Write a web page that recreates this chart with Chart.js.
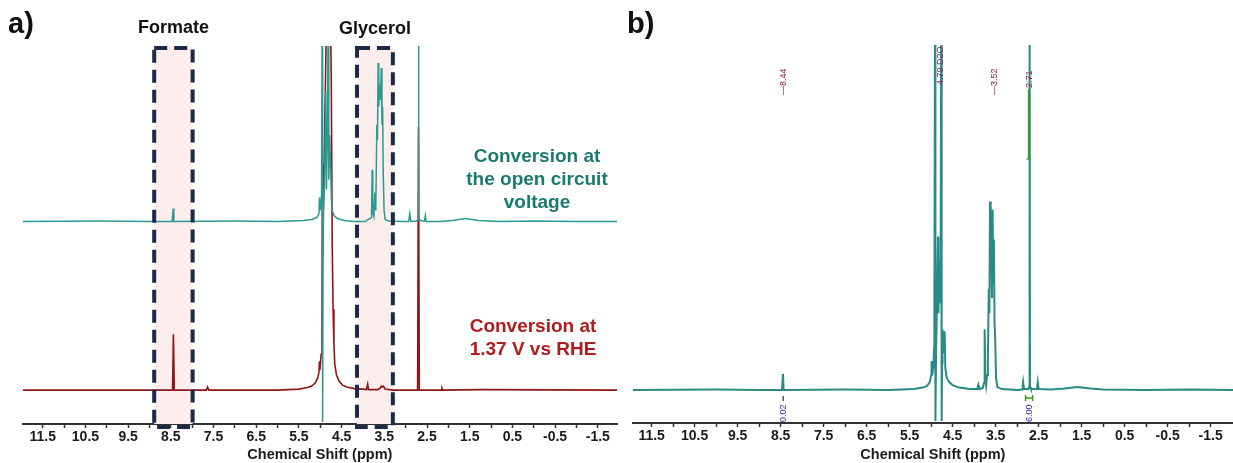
<!DOCTYPE html>
<html><head><meta charset="utf-8">
<script src="https://cdn.jsdelivr.net/npm/chart.js@4.4.1/dist/chart.umd.min.js"></script>
<style>
html,body{margin:0;padding:0;background:#fff;width:1233px;height:463px;overflow:hidden;}
#pa{position:absolute;left:0;top:0;width:620px;height:463px;}
#pb{position:absolute;left:620px;top:0;width:613px;height:463px;}
canvas{display:block;}
</style></head><body>
<div id="pa"><canvas id="ca" width="620" height="463"></canvas></div>
<div id="pb"><canvas id="cb" width="613" height="463"></canvas></div>
<script>
// ---------- data ----------
const tickLabels = [11.5,10.5,9.5,8.5,7.5,6.5,5.5,4.5,3.5,2.5,1.5,0.5,-0.5,-1.5];
const minorTicks = [11,10,9,8,7,6,5,4,3,2,1,0,-1];
const xTitle = 'Chemical Shift (ppm)';

// panel a: open circuit spectrum (ppm, intensity)
const openCircuitA = [
[11.97,203],[10.2,203.5],[9.0,203],[8.47,203],[8.445,216],[8.43,203],[7.0,203.5],[6.0,203],[5.4,204],[5.2,205],[5.08,207],[5.03,211],[5.02,227],[5.0,214],[4.97,230],[4.955,420],[4.945,2],[4.93,215],[4.9,240],[4.87,334],[4.855,235],[4.83,300],[4.815,420],[4.80,245],[4.78,290],[4.755,254],[4.74,225],[4.72,214],[4.68,209],[4.6,206],[4.45,204],[4.2,203],[3.95,203],[3.88,205],[3.80,207],[3.785,255],[3.77,212],[3.745,208],[3.72,232],[3.70,214],[3.675,300],[3.66,285],[3.645,362],[3.63,318],[3.61,340],[3.595,325],[3.57,357],[3.555,300],[3.54,318],[3.525,250],[3.505,214],[3.48,205],[3.40,203.5],[3.1,203],[2.93,203],[2.905,211],[2.88,203],[2.75,203.5],[2.71,205],[2.70,420],[2.69,205],[2.62,203.5],[2.56,203.5],[2.54,209],[2.52,203],[2.2,203],[1.9,204],[1.6,206],[1.3,204],[0.8,203],[0,203.5],[-1,203],[-1.95,203]
];
// panel a: 1.37 V vs RHE spectrum
const rheA = [
[11.97,34],[9.0,34],[8.46,34],[8.44,90],[8.42,34],[7.67,34],[7.64,37],[7.61,34],[6.0,34],[5.5,35],[5.3,36.5],[5.2,38],[5.12,41],[5.06,46],[5.03,52],[5.02,63],[5.01,54],[4.98,70],[4.96,110],[4.95,261],[4.94,170],[4.91,260],[4.88,340],[4.85,420],[4.76,420],[4.74,330],[4.72,180],[4.70,115],[4.68,80],[4.66,60],[4.62,49],[4.56,43],[4.48,39],[4.38,37],[4.2,35.5],[4.0,35],[3.92,34.5],[3.89,40],[3.87,34.5],[3.65,34.5],[3.60,36],[3.57,38],[3.55,37],[3.52,38],[3.48,35],[3.3,34],[2.72,34],[2.70,298],[2.68,34],[2.17,34],[2.15,36],[2.13,34],[1.2,34.5],[-1.95,34]
];
// panel b spectrum
const spectrumB = [
[11.94,33],[10,33.5],[9,33],[8.47,33],[8.445,49],[8.43,33],[7,33.5],[6,33],[5.4,34],[5.2,35.5],[5.1,37],[5.03,41],[5.0,48],[4.99,62],[4.975,48],[4.95,55],[4.925,80],[4.91,420],[4.9,2],[4.885,70],[4.86,130],[4.84,187],[4.83,110],[4.81,150],[4.795,164],[4.78,120],[4.765,420],[4.755,2],[4.745,60],[4.735,94],[4.72,70],[4.70,80],[4.685,92],[4.67,55],[4.64,46],[4.58,41],[4.5,38],[4.35,35.5],[4.1,34],[3.93,34],[3.905,38],[3.89,34],[3.80,35],[3.77,40],[3.755,94],[3.74,45],[3.72,38],[3.70,48],[3.68,62],[3.66,134],[3.645,110],[3.63,222],[3.615,150],[3.60,175],[3.585,125],[3.57,214],[3.555,140],[3.54,184],[3.525,100],[3.51,84],[3.49,45],[3.46,36],[3.35,34],[3.0,33],[2.88,33.5],[2.86,41],[2.84,34],[2.74,34],[2.72,36],[2.71,420],[2.70,36],[2.68,34],[2.54,34],[2.52,41],[2.50,34],[2.2,33.5],[1.9,34.5],[1.6,36],[1.3,34.5],[1,33.5],[0,33],[-1,33.5],[-2.02,33]
];
const regionsA = [{label:'Formate', from:8.89, to:7.99}, {label:'Glycerol', from:4.14, to:3.30}];
const seriesNamesA = [['Conversion at','the open circuit','voltage'], ['Conversion at','1.37 V vs RHE']];
const peakLabelsB = [{ppm:8.44, text:'\u20148.44'}, {ppm:4.79, text:'4.79 D2O'}, {ppm:3.52, text:'\u20143.52'}, {ppm:2.71, text:'2.71'}];
const integralsB = [{ppm:8.44, text:'0.02'}, {ppm:2.71, text:'6.00'}];

// ---------- helpers ----------
const FONT = '"Liberation Sans", Arial, sans-serif';
const toXY = arr => arr.map(p => ({x:p[0], y:p[1]}));
const allTicks = tickLabels.concat(minorTicks).sort((a,b)=>b-a);

function xScale(min, max){
  return {
    type:'linear', reverse:true, min:min, max:max,
    afterBuildTicks: s => { s.ticks = allTicks.map(v => ({value:v})); },
    ticks:{autoSkip:false, maxRotation:0, padding:1, color:'#1a1a1a',
      font:{family:FONT, size:14, weight:'bold'},
      callback: v => tickLabels.includes(v) ? v.toFixed(1) : ''},
    grid:{drawOnChartArea:false, drawTicks:true, tickLength:4, color:'#333', tickWidth:1.5},
    border:{display:true, color:'#333', width:2}
  };
}
const yScale = {display:false, min:0, max:379};

function drawTitle(chart, txt){
  const ctx = chart.ctx, ca = chart.chartArea;
  ctx.save();
  ctx.fillStyle = '#1a1a1a';
  ctx.font = 'bold 14.5px ' + FONT;
  ctx.textAlign = 'center'; ctx.textBaseline = 'alphabetic';
  ctx.fillText(txt, (ca.left + ca.right)/2, 459);
  ctx.restore();
}

// ---------- panel a ----------
const plugA = {
  id:'plugA',
  beforeDatasetsDraw(chart){
    const ctx = chart.ctx, ca = chart.chartArea, xs = chart.scales.x;
    ctx.save();
    ctx.fillStyle = '#fdeeed';
    regionsA.forEach(r => {
      const x1 = xs.getPixelForValue(r.from), x2 = xs.getPixelForValue(r.to);
      ctx.fillRect(x1, ca.top, x2 - x1, ca.bottom - ca.top);
    });
    ctx.restore();
  },
  afterDatasetsDraw(chart){
    const ctx = chart.ctx, ca = chart.chartArea, xs = chart.scales.x;
    ctx.save();
    ctx.strokeStyle = '#1b2a48'; ctx.lineWidth = 4; ctx.setLineDash([13,7]);
    regionsA.forEach(r => {
      const x1 = xs.getPixelForValue(r.from), x2 = xs.getPixelForValue(r.to);
      ctx.strokeRect(x1, ca.top + 2, x2 - x1, ca.bottom - ca.top + 1);
    });
    ctx.setLineDash([]);
    ctx.fillStyle = '#111';
    ctx.font = 'bold 18px ' + FONT; ctx.textAlign = 'center'; ctx.textBaseline = 'alphabetic';
    regionsA.forEach((r,i) => {
      const xc = (xs.getPixelForValue(r.from) + xs.getPixelForValue(r.to))/2;
      ctx.fillText(r.label, xc, i === 0 ? 33 : 34);
    });
    ctx.font = 'bold 29px ' + FONT; ctx.textAlign = 'left';
    ctx.fillText('a)', 8, 33);
    ctx.font = 'bold 19px ' + FONT; ctx.textAlign = 'center';
    ctx.fillStyle = '#1b7a70';
    seriesNamesA[0].forEach((t,i) => ctx.fillText(t, 537, 162 + i*23));
    ctx.fillStyle = '#b01c1c';
    seriesNamesA[1].forEach((t,i) => ctx.fillText(t, 533, 332 + i*23));
    ctx.restore();
    drawTitle(chart, xTitle);
  }
};

new Chart(document.getElementById('ca'), {
  type:'scatter',
  data:{datasets:[
    {data:toXY(openCircuitA), showLine:true, pointRadius:0, borderColor:'#2b9a92', borderWidth:1.5, tension:0},
    {data:toXY(rheA), showLine:true, pointRadius:0, borderColor:'#8c1616', borderWidth:1.6, tension:0}
  ]},
  options:{
    responsive:false, animation:false, devicePixelRatio:1,
    layout:{padding:{left:22.7, right:3, top:46, bottom:16.2}},
    scales:{x:xScale(-1.95, 11.97), y:yScale},
    plugins:{legend:{display:false}, tooltip:{enabled:false}}
  },
  plugins:[plugA]
});

// ---------- panel b ----------
const plugB = {
  id:'plugB',
  afterDatasetsDraw(chart){
    const ctx = chart.ctx, xs = chart.scales.x;
    ctx.save();
    ctx.font = 'bold 29px ' + FONT; ctx.fillStyle = '#111'; ctx.textAlign = 'left'; ctx.textBaseline = 'alphabetic';
    ctx.fillText('b)', 7, 33);
    // green integral line
    const xi = xs.getPixelForValue(2.71) - 1;
    ctx.strokeStyle = '#3a9a1a'; ctx.lineWidth = 1.5;
    ctx.beginPath(); ctx.moveTo(xi, 90); ctx.lineTo(xi, 159); ctx.lineTo(xi - 2, 159); ctx.stroke();
    ctx.beginPath(); ctx.moveTo(xi - 3, 398); ctx.lineTo(xi + 4, 398);
    ctx.moveTo(xi - 3, 395); ctx.lineTo(xi - 3, 401); ctx.moveTo(xi + 4, 395); ctx.lineTo(xi + 4, 401); ctx.stroke();
    // peak labels
    ctx.font = '9px ' + FONT; ctx.textBaseline = 'middle'; ctx.textAlign = 'left';
    const bottoms = [95, 85, 95, 88];
    peakLabelsB.forEach((p,i) => {
      ctx.save();
      ctx.translate(xs.getPixelForValue(p.ppm), bottoms[i]);
      ctx.rotate(-Math.PI/2);
      ctx.fillStyle = '#8b2050';
      ctx.fillText(p.text, 0, 0);
      ctx.restore();
    });
    integralsB.forEach(p => {
      ctx.save();
      ctx.translate(xs.getPixelForValue(p.ppm), 422);
      ctx.rotate(-Math.PI/2);
      ctx.fillStyle = '#2a2aa0';
      ctx.fillText(p.text, 0, 0);
      ctx.restore();
    });
    ctx.strokeStyle = '#333'; ctx.lineWidth = 1.2;
    const x8 = xs.getPixelForValue(8.44);
    ctx.beginPath(); ctx.moveTo(x8, 396); ctx.lineTo(x8, 401); ctx.stroke();
    ctx.restore();
    drawTitle(chart, xTitle);
  }
};

new Chart(document.getElementById('cb'), {
  type:'scatter',
  data:{datasets:[
    {data:toXY(spectrumB), showLine:true, pointRadius:0, borderColor:'#2a8a84', borderWidth:2, tension:0}
  ]},
  options:{
    responsive:false, animation:false, devicePixelRatio:1,
    layout:{padding:{left:12.7, right:0, top:45, bottom:17.2}},
    scales:{x:xScale(-2.02, 11.94), y:yScale},
    plugins:{legend:{display:false}, tooltip:{enabled:false}}
  },
  plugins:[plugB]
});
</script>
</body></html>
